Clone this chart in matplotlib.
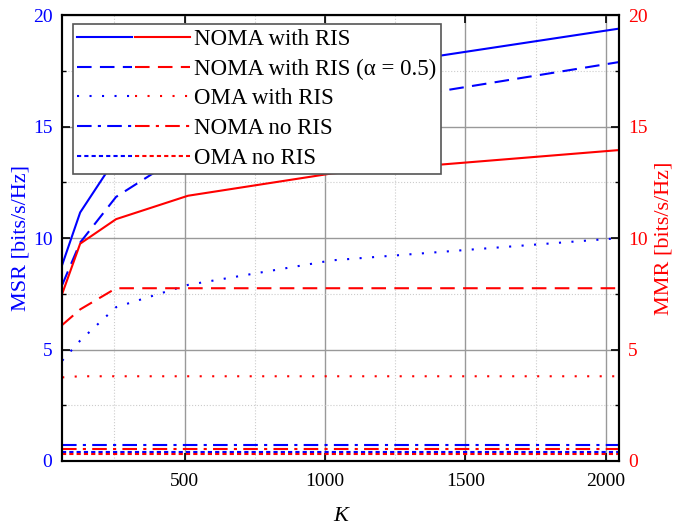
import numpy as np
import matplotlib.pyplot as plt
from matplotlib.legend_handler import HandlerTuple
from matplotlib.ticker import MultipleLocator

plt.rcParams['font.family'] = ['Liberation Serif', 'DejaVu Serif']

K = [64, 128, 256, 512, 1024, 2048]

# MSR (left axis, blue)
msr_noma_ris = [8.8, 11.15, 13.6, 15.6, 17.45, 19.4]
msr_noma_ris_a05 = [7.9, 9.8, 11.85, 13.9, 15.8, 17.9]
msr_oma_ris = [4.5, 5.4, 6.9, 7.9, 9.0, 10.0]
msr_noma_noris = [0.72, 0.72, 0.72, 0.72, 0.72, 0.72]
msr_oma_noris = [0.42, 0.42, 0.42, 0.42, 0.42, 0.42]

# MMR (right axis, red)
mmr_noma_ris = [7.5, 9.75, 10.85, 11.9, 12.9, 13.95]
mmr_noma_ris_a05 = [6.1, 6.8, 7.75, 7.75, 7.75, 7.75]
mmr_oma_ris = [3.75, 3.8, 3.8, 3.8, 3.8, 3.8]
mmr_noma_noris = [0.54, 0.54, 0.54, 0.54, 0.54, 0.54]
mmr_oma_noris = [0.31, 0.31, 0.31, 0.31, 0.31, 0.31]

labels = ['NOMA with RIS', 'NOMA with RIS (α = 0.5)', 'OMA with RIS',
          'NOMA no RIS', 'OMA no RIS']

styles = ['-', (0, (7, 4)), (0, (1, 5)), (0, (7, 3, 1.5, 3)), (0, (2, 1.5))]

fig, ax = plt.subplots(figsize=(6.76, 5.25), dpi=100)
fig.subplots_adjust(left=0.092, right=0.916, top=0.971, bottom=0.122)
ax2 = ax.twinx()

blue_series = [msr_noma_ris, msr_noma_ris_a05, msr_oma_ris, msr_noma_noris, msr_oma_noris]
red_series = [mmr_noma_ris, mmr_noma_ris_a05, mmr_oma_ris, mmr_noma_noris, mmr_oma_noris]

handles = []
for b, r, ls in zip(blue_series, red_series, styles):
    hb, = ax.plot(K, b, color='#0000ff', linestyle=ls, lw=1.5)
    hr, = ax2.plot(K, r, color='#ff0000', linestyle=ls, lw=1.5)
    handles.append((hb, hr))

for a in (ax, ax2):
    a.set_xlim(64, 2048)
    a.set_ylim(0, 20)
    a.yaxis.set_major_locator(MultipleLocator(5))
    a.yaxis.set_minor_locator(MultipleLocator(2.5))
    a.tick_params(which='both', direction='in', labelsize=14)
    a.tick_params(which='major', length=6, width=1.2)
    a.tick_params(which='minor', length=3, width=1)

ax.xaxis.set_major_locator(MultipleLocator(500))
ax.xaxis.set_minor_locator(MultipleLocator(250))
ax.tick_params(axis='x', which='both', top=True, pad=9)
ax.tick_params(axis='x', which='minor', length=0, top=False)
ax.tick_params(axis='y', colors='#0000ff', which='both', pad=7)
ax.tick_params(axis='y', which='both', color='black')
ax2.tick_params(axis='y', colors='#ff0000', which='both', pad=6.5)
ax2.tick_params(axis='y', which='both', color='black')

ax.grid(which='major', color='#999999', lw=1)
ax.grid(which='minor', color='#cccccc', lw=0.8, linestyle=':')

for a in (ax, ax2):
    for s in a.spines.values():
        s.set_linewidth(1.5)

ax.set_xlabel('K', fontsize=16, style='italic', labelpad=12)
ax.set_ylabel('MSR [bits/s/Hz]', color='#0000ff', fontsize=16, labelpad=2)
ax2.set_ylabel('MMR [bits/s/Hz]', color='#ff0000', fontsize=16, labelpad=5)

leg = ax2.legend(handles, labels, handler_map={tuple: HandlerTuple(ndivide=None, pad=0.15)},
                 loc='upper left', bbox_to_anchor=(0.015, 0.985), fontsize=16.5,
                 handlelength=4.9, handletextpad=0.2, labelspacing=0.38,
                 borderpad=0.2, borderaxespad=0.1, fancybox=False, framealpha=1)
leg.get_frame().set_edgecolor('#555555')
leg.get_frame().set_linewidth(1.2)

fig.savefig('out.png', dpi=100)
